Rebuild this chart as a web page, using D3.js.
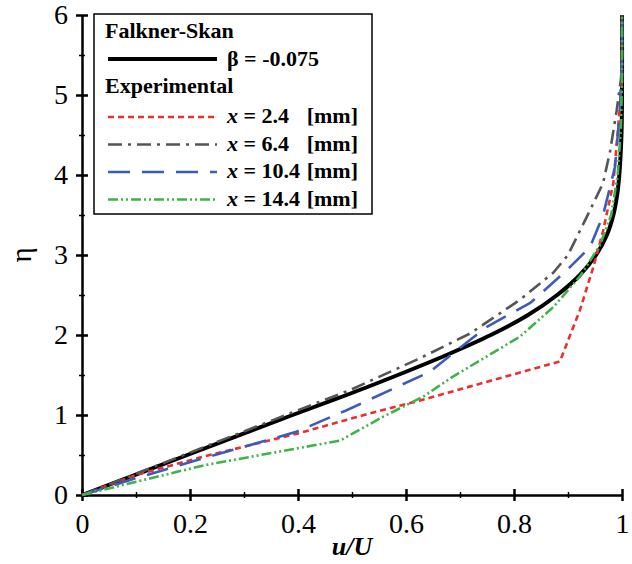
<!DOCTYPE html>
<html>
<head>
<meta charset="utf-8">
<script src="https://cdn.jsdelivr.net/npm/d3@7"></script>
<style>
  body { margin: 0; background: #fff; }
  text { font-family: "Liberation Serif", "Times New Roman", serif; }
</style>
</head>
<body>
<script>
"use strict";

// u/U values and eta values
const fsU   = [0, 0.195, 0.39, 0.49, 0.585, 0.675, 0.757, 0.826, 0.880, 0.922, 0.952, 0.972, 0.984, 0.991, 0.995, 0.999, 1.0, 1.0];
const fsEta = [0, 0.5, 1.0, 1.25, 1.5, 1.75, 2.0, 2.25, 2.5, 2.75, 3.0, 3.25, 3.5, 3.75, 4.0, 4.5, 5.0, 6.0];

const x24U   = [0, 0.10, 0.225, 0.40, 0.533, 0.62, 0.885, 0.922, 0.947, 0.965, 0.984, 0.993, 1.0, 1.0];
const x24Eta = [0, 0.25, 0.48, 0.77, 1.02, 1.17, 1.67, 2.31, 2.85, 3.30, 3.90, 4.60, 5.2, 6.0];

const x64U   = [0, 0.20, 0.404, 0.496, 0.626, 0.719, 0.811, 0.873, 0.90, 0.935, 0.965, 0.978, 0.99, 1.0, 1.0];
const x64Eta = [0, 0.53, 1.07, 1.31, 1.71, 2.02, 2.44, 2.78, 3.0, 3.48, 3.90, 4.30, 4.80, 5.3, 6.0];

const x104U   = [0, 0.10, 0.225, 0.397, 0.49, 0.644, 0.749, 0.83, 0.898, 0.941, 0.965, 0.987, 0.996, 1.0, 1.0];
const x104Eta = [0, 0.21, 0.46, 0.79, 1.06, 1.54, 2.10, 2.40, 2.81, 3.10, 3.50, 4.10, 4.80, 5.5, 6.0];

const x144U   = [0, 0.225, 0.404, 0.478, 0.558, 0.632, 0.687, 0.811, 0.873, 0.922, 0.959, 0.98, 0.992, 0.998, 1.0, 1.0];
const x144Eta = [0, 0.37, 0.59, 0.68, 0.98, 1.23, 1.48, 1.98, 2.35, 2.73, 3.12, 3.50, 4.00, 4.60, 5.2, 6.0];

const xTicks = [0, 0.2, 0.4, 0.6, 0.8, 1];
const xTickLabels = ["0", "0.2", "0.4", "0.6", "0.8", "1"];
const xMinor = [0.1, 0.3, 0.5, 0.7, 0.9];
const yTicks = [0, 1, 2, 3, 4, 5, 6];
const yMinor = [0.5, 1.5, 2.5, 3.5, 4.5, 5.5];

const expLabels = ["2.4", "6.4", "10.4", "14.4"];

const width = 632, height = 564;
const margin = { left: 82, right: 10, top: 15, bottom: 69 };

let svg = d3.select("body").append("svg")
  .attr("width", width)
  .attr("height", height);

const x = d3.scaleLinear().domain([0, 1]).range([margin.left, width - margin.right]);
const y = d3.scaleLinear().domain([0, 6]).range([height - margin.bottom, margin.top]);

const zip = (us, etas) => us.map((u, i) => [u, etas[i]]);

const series = [
  { data: zip(x24U, x24Eta), color: "#e8302f", width: 2.6, dash: "6,4" },
  { data: zip(x64U, x64Eta), color: "#555555", width: 2.6, dash: "14,6,3,6" },
  { data: zip(x104U, x104Eta), color: "#3d5bb8", width: 2.6, dash: "22,12" },
  { data: zip(x144U, x144Eta), color: "#3fb34a", width: 2.6, dash: "10,3,2,3,2,3" }
];

const line = d3.line().x(d => x(d[0])).y(d => y(d[1]));
const font = "'Liberation Serif', 'Times New Roman', serif";

// minor ticks
svg.append("g")
  .attr("transform", `translate(0,${y(0)})`)
  .call(d3.axisBottom(x).tickValues(xMinor).tickSize(3).tickFormat(""))
  .call(g => g.select(".domain").remove())
  .call(g => g.selectAll(".tick line").attr("y1", -3).attr("stroke-width", 1.5));
svg.append("g")
  .attr("transform", `translate(${x(0)},0)`)
  .call(d3.axisLeft(y).tickValues(yMinor).tickSize(3).tickFormat(""))
  .call(g => g.select(".domain").remove())
  .call(g => g.selectAll(".tick line").attr("x1", 3).attr("stroke-width", 1.5));

// major axes
svg.append("g")
  .attr("transform", `translate(0,${y(0)})`)
  .call(d3.axisBottom(x).tickValues(xTicks).tickSize(6).tickPadding(12)
    .tickSizeOuter(0).tickFormat((d, i) => xTickLabels[i]))
  .call(g => g.select(".domain").attr("stroke-width", 2.5))
  .call(g => g.selectAll(".tick line").attr("y1", -6).attr("stroke-width", 2.5))
  .call(g => g.selectAll(".tick text")
    .attr("font-size", 28).attr("fill", "#000").attr("font-family", font));

svg.append("g")
  .attr("transform", `translate(${x(0)},0)`)
  .call(d3.axisLeft(y).tickValues(yTicks).tickSize(6).tickPadding(8)
    .tickSizeOuter(0).tickFormat(d3.format("d")))
  .call(g => g.select(".domain").attr("stroke-width", 2.5))
  .call(g => g.selectAll(".tick line").attr("x1", 6).attr("stroke-width", 2.5))
  .call(g => g.selectAll(".tick text")
    .attr("font-size", 28).attr("fill", "#000").attr("font-family", font));

// axis titles
svg.append("text")
  .attr("x", (x(0) + x(1)) / 2)
  .attr("y", 555)
  .attr("text-anchor", "middle")
  .attr("font-size", 26)
  .attr("font-weight", "bold")
  .attr("font-style", "italic")
  .text("u/U");

svg.append("text")
  .attr("transform", `translate(31,${(y(0) + y(6)) / 2}) rotate(-90)`)
  .attr("text-anchor", "middle")
  .attr("font-size", 29)
  .text("η");

// Falkner-Skan curve underneath the measured profiles
svg.append("path")
  .attr("fill", "none")
  .attr("stroke", "#000")
  .attr("stroke-width", 4)
  .attr("d", d3.line().curve(d3.curveCatmullRom.alpha(0.5))
    .x(d => x(d[0])).y(d => y(d[1]))(zip(fsU, fsEta)));

svg.selectAll(".exp")
  .data(series)
  .enter()
  .append("path")
  .attr("class", "exp")
  .attr("fill", "none")
  .attr("stroke", d => d.color)
  .attr("stroke-width", d => d.width)
  .attr("stroke-dasharray", d => d.dash)
  .attr("d", d => line(d.data));

// legend
let legend = svg.append("g");
legend.append("rect")
  .attr("x", 94).attr("y", 14)
  .attr("width", 278).attr("height", 200)
  .attr("fill", "#fff")
  .attr("stroke", "#000")
  .attr("stroke-width", 1.5);

legend.append("text")
  .attr("x", 105).attr("y", 38)
  .attr("font-size", 22).attr("font-weight", "bold")
  .text("Falkner-Skan");

legend.append("line")
  .attr("x1", 108).attr("x2", 217)
  .attr("y1", 59).attr("y2", 59)
  .attr("stroke", "#000").attr("stroke-width", 4);

legend.append("text")
  .attr("x", 227).attr("y", 66)
  .attr("font-size", 22).attr("font-weight", "bold")
  .text("β = -0.075");

legend.append("text")
  .attr("x", 105).attr("y", 93)
  .attr("font-size", 22).attr("font-weight", "bold")
  .text("Experimental");

const rows = legend.selectAll(".row")
  .data(series)
  .enter()
  .append("g")
  .attr("class", "row")
  .attr("transform", (d, i) => `translate(0,${117 + i * 27.5})`);

rows.append("line")
  .attr("x1", 108).attr("x2", 217)
  .attr("stroke", d => d.color)
  .attr("stroke-width", d => d.width)
  .attr("stroke-dasharray", d => d.dash);

const rowText = rows.append("text")
  .attr("x", 227).attr("y", 6)
  .attr("font-size", 22).attr("font-weight", "bold");
rowText.append("tspan").attr("font-style", "italic").text("x");
rowText.append("tspan").text((d, i) => " = " + expLabels[i]);

rows.append("text")
  .attr("x", 358).attr("y", 6)
  .attr("text-anchor", "end")
  .attr("font-size", 22).attr("font-weight", "bold")
  .text("[mm]");
</script>
</body>
</html>
